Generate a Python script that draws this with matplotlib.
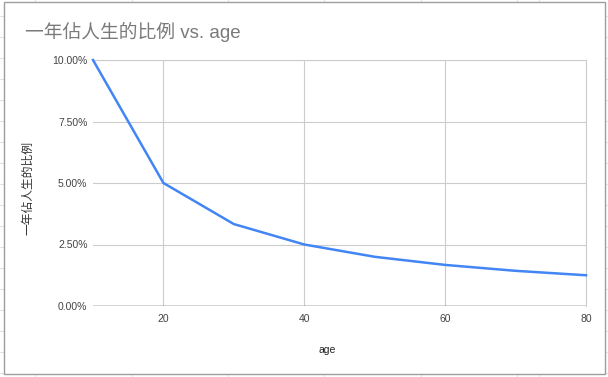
import matplotlib
matplotlib.use("Agg")
import matplotlib.pyplot as plt
from matplotlib.lines import Line2D
from matplotlib.patches import Rectangle
from matplotlib.ticker import FuncFormatter

plt.rcParams['font.family'] = ['Liberation Sans', 'Noto Sans CJK TC', 'DejaVu Sans']

# 資料
age = [10, 20, 30, 40, 50, 60, 70, 80]
ratio = [0.1000, 0.0500, 0.0333, 0.0250, 0.0200, 0.0167, 0.0143, 0.0125]
x_ticks = [20, 40, 60, 80]
y_ticks = [0.0, 0.025, 0.05, 0.075, 0.10]

W, H = 608, 377
fig = plt.figure(figsize=(W / 100, H / 100), dpi=100)
fig.patch.set_facecolor('white')

# 試算表背景格線
for xp in [35, 132, 228, 324, 421, 517, 539]:
    fig.add_artist(Line2D([xp / W, xp / W], [0, 1], color='#e2e2e2', lw=0.8, zorder=0))
for yp in range(16, H, 21):
    fig.add_artist(Line2D([0, 1], [1 - yp / H, 1 - yp / H], color='#e2e2e2', lw=0.8, zorder=0))

# 圖表外框
fig.add_artist(Rectangle((4 / W, 1 - 374 / H), 601 / W, 372 / H, facecolor='white',
                         edgecolor='#9e9e9e', lw=1.0, zorder=1))

ax = fig.add_axes([93 / W, 1 - 306 / H, (586 - 93) / W, (306 - 60) / H], zorder=2)
ax.set_facecolor('white')
ax.plot(age, ratio, color='#4285F4', lw=1.8, zorder=3, clip_on=False)

ax.set_xlim(10, 80)
ax.set_ylim(0, 0.10)
ax.set_xticks(x_ticks)
ax.set_yticks(y_ticks)
ax.yaxis.set_major_formatter(FuncFormatter(lambda v, p: f"{v * 100:.2f}%"))
ax.grid(True, color='#cccccc', lw=0.8)
ax.axhline(0, color='#333333', lw=1.0, zorder=2.5)
for s in ['left', 'bottom']:
    ax.spines[s].set_visible(False)
ax.spines['top'].set_color('#cccccc')
ax.spines['right'].set_color('#cccccc')
ax.spines['top'].set_linewidth(0.8)
ax.spines['right'].set_linewidth(0.8)
ax.tick_params(length=0, labelsize=7.5, labelcolor='#444444', pad=6)
ax.tick_params(axis='y', pad=4)

fig.text(25 / W, 1 - 32 / H, '一年佔人生的比例 vs. age', fontsize=13.5, color='#7a7a7a',
         va='center', ha='left', zorder=5)
fig.text(28 / W, 1 - 188 / H, '一年佔人生的比例', fontsize=8.5, color='#333333',
         rotation=90, va='center', ha='center', zorder=5)
fig.text(327 / W, 1 - 350 / H, 'age', fontsize=7.5, color='#222222',
         va='center', ha='center', zorder=5)

fig.savefig('out.png', dpi=100)
